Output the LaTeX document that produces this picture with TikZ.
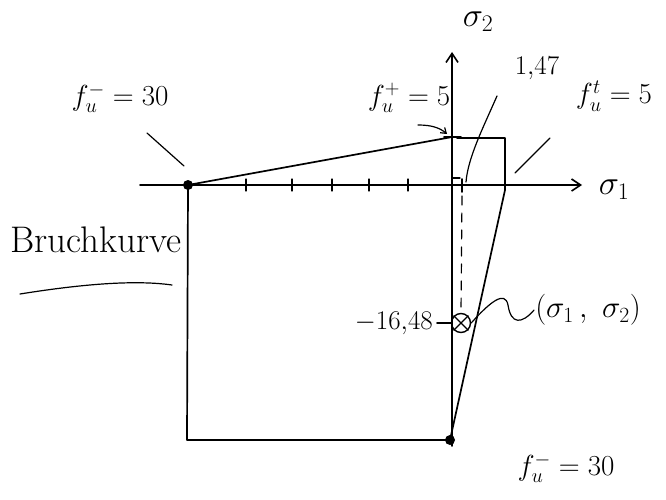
\RequirePackage{fix-cm}
\documentclass[tikz,border=0pt]{standalone}
\usetikzlibrary{arrows.meta}
\begin{document}
\begin{tikzpicture}[x=1pt,y=-1pt, line cap=round, line join=round,
  pen/.style={line width=1.7pt},
  thinpen/.style={line width=1.2pt},
  lbl/.style={inner sep=1pt, font=\fontsize{29}{33}\selectfont},
  axisarrow/.style={-{Straight Barb[length=9pt,width=12pt,line width=1.6pt]}},
  dotmark/.style={circle, fill=black, inner sep=0pt, minimum size=10pt}]
\useasboundingbox (0,0) rectangle (666,500);

% key points
\node[dotmark] (A) at (188,185) {};
\node[dotmark] (E) at (450,440) {};
\coordinate (F) at (187,440);
\coordinate (B) at (452,137);
\coordinate (Cl) at (457,138);
\coordinate (C) at (505,138);
\coordinate (D) at (505,190);
\coordinate (X0) at (140,185);
\coordinate (X1) at (582,185);
\coordinate (Y0) at (452,446);
\coordinate (Y1) at (452,52);

% axes
\draw[pen,axisarrow] (X0) -- (X1);
\node[lbl, font=\fontsize{34}{38}\selectfont] (s1) at (614,190) {$\sigma_1$};
\draw[pen,axisarrow] (Y0) -- (Y1);
\node[lbl, font=\fontsize{34}{38}\selectfont] (s2) at (478,22) {$\sigma_2$};

% failure curve
\draw[pen] (A.center) -- (F) -- (E.center);
\draw[pen] (A.center) -- (B);
\draw[pen] (Cl) -- (C) -- (D) -- (E.center);

% ticks
\foreach \x in {246,292,332,369,408} \draw[thinpen] (\x,179) -- (\x,191);
\draw[pen] (444,137) -- (461,137);
\draw[thinpen] (452,178) -- (460,178);
\draw[pen] (462,179) -- (462,192);

% point (sigma1, sigma2)
\node[circle, draw, line width=1.4pt, minimum size=19pt, inner sep=0pt] (P) at (461,323) {};
\draw[line width=1.2pt] (P.north west) -- (P.south east) (P.north east) -- (P.south west);
\draw[thinpen, dashed, dash pattern=on 9pt off 8pt] (462,196) -- (P.north);
\draw[pen] (437,323) -- (P.west);
\node[lbl, anchor=east, font=\fontsize{27}{31}\selectfont] (v1648) at (434,323) {$-16{,}48$};

\node[lbl, font=\fontsize{31}{35}\selectfont] (pair) at (588,310) {$\bigl(\sigma_1\,,\ \sigma_2\bigr)$};
\draw[thinpen] (P.east) .. controls (490,302) and (505,290) .. (508,305)
  .. controls (511,325) and (522,324) .. (pair.west);

% 1,47
\node[lbl, font=\fontsize{27}{31}\selectfont] (l147) at (537,68) {$1{,}47$};
\coordinate (l147a) at (497,96);
\coordinate (l147b) at (466,182);
\draw[thinpen] (l147a) .. controls (482,130) and (468,158) .. (l147b);

% f_u^t = 5
\node[lbl] (fut) at (614,96) {$f_u^t=5$};
\coordinate (futa) at (550,138);
\coordinate (futb) at (515,173);
\draw[thinpen] (futa) -- (futb);

% f_u^+ = 5
\node[lbl] (fup) at (409,98) {$f_u^+=5$};
\coordinate (fupa) at (418,125);
\coordinate (fupb) at (447,134);
\draw[thinpen, -{Straight Barb[length=5pt,width=7pt]}] (fupa) .. controls (432,125) and (440,128) .. (fupb);

% f_u^- = 30 (top left)
\node[lbl] (fum1) at (120,98) {$f_u^-=30$};
\coordinate (fum1a) at (147,133);
\coordinate (fum1b) at (184,166);
\draw[thinpen] (fum1a) -- (fum1b);

% f_u^- = 30 (bottom right)
\node[lbl] (fum2) at (566,468) {$f_u^-=30$};

% Bruchkurve
\node[lbl, font=\fontsize{37}{41}\selectfont] (bk) at (96,240) {Bruchkurve};
\coordinate (ula) at (20,294);
\coordinate (ulb) at (172,285);
\draw[thinpen] (ula) .. controls (70,286) and (130,279) .. (ulb);
\end{tikzpicture}
\end{document}
